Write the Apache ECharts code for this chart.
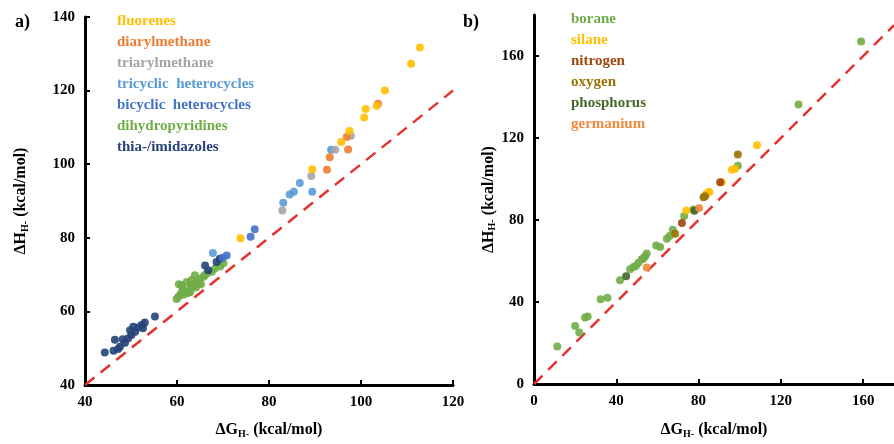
<!DOCTYPE html>
<html>
<head>
<meta charset="utf-8">
<script src="https://cdn.jsdelivr.net/npm/echarts@6/dist/echarts.min.js"></script>
<style>
  html, body { margin: 0; padding: 0; background: #fff; }
  #main { width: 894px; height: 444px; }
</style>
</head>
<body>
<div id="main"></div>
<script>
// ---- panel a) data [ΔG, ΔH] ----
const fluorenes = [[112.8, 131.7], [110.9, 127.3], [105.2, 120], [101, 115], [100.7, 112.7], [103.4, 115.9], [97.5, 109], [95.7, 106], [89.4, 98.6], [73.8, 79.9]];
const diarylmethane = [[96.9, 107.4], [97.2, 104], [93.2, 101.9], [92.6, 98.5], [103.7, 116.4]];
const triarylmethane = [[97.8, 107.7], [94.4, 103.9], [89.2, 96.8], [82.9, 87.4]];
const tricyclic = [[93.5, 103.9], [86.7, 94.9], [85.4, 92.5], [84.5, 91.8], [83.1, 89.5], [89.4, 92.5], [67.8, 75.9]];
const bicyclic = [[76.9, 82.3], [76, 80.3], [70.8, 75.2], [69.9, 74.6]];
const dihydropyridines = [
  [59.9, 63.4], [60.3, 64], [60.4, 67.4], [61, 67.2], [62.1, 68], [61.7, 65.5], [62.8, 66], [63.5, 66.9],
  [63.9, 69.8], [63.2, 68.5], [64.3, 68], [65, 68.9], [65.8, 69.4], [66.5, 70.3], [67.6, 70.8], [68.3, 71.7],
  [69.4, 72.2], [70.1, 73.1], [61.4, 64.5], [62.4, 65], [60.8, 64.8], [63, 67.3], [64.6, 67.6], [66, 69.8],
  [61.2, 66.1], [62.9, 65.3], [64.1, 66.5], [65.2, 67.4]
];
const thiaImidazoles = [
  [44.3, 48.8], [46.2, 49.3], [46.5, 52.3], [47.6, 50.4], [48.7, 51.5], [49.4, 52.7], [50.1, 53.6], [49.8, 54.9],
  [50.9, 54.5], [51.6, 55.6], [52.3, 56.3], [53, 57], [50.5, 55.8], [55.2, 58.6], [66.1, 72.5], [66.8, 71.2],
  [68.6, 73.4], [69.3, 74.3], [47.2, 49.8], [48.2, 52.4], [52.6, 55.4]
];
const diagA = [[40, 40], [120, 120]];

// ---- panel b) data [ΔG, ΔH] ----
const borane = [
  [11.3, 18.3], [20, 28.3], [22, 25.1], [24.8, 32.4], [26.1, 32.9], [32.4, 41.3], [35.7, 42.1], [41.8, 50.6],
  [46.7, 56], [48.3, 57.1], [50.8, 59.2], [52.4, 60.8], [54, 62.3], [54.8, 63.6], [59.4, 67.6], [61.3, 66.8],
  [64.6, 70.9], [65.9, 72.2], [67.5, 75.2], [73, 81.9], [77.5, 85.1], [99.1, 106.5], [128.6, 136.4], [159, 167.1],
  [49.5, 57.6], [53.2, 61.2]
];
const silane = [[74, 84.6], [83.6, 92.6], [85.2, 93.6], [91.3, 98.4], [96.2, 104.5], [97.8, 105], [108.4, 116.5], [84.8, 93.5]];
const nitrogen = [[71.9, 78.5], [90.5, 98.4]];
const oxygen = [[68.6, 73.3], [82.4, 91.1], [83.2, 91.6], [99.1, 112]];
const phosphorus = [[44.8, 52.6], [78, 84.5]];
const germanium = [[54.8, 56.8], [80.3, 85.8]];
const diagB = [[0, 0], [175, 175]];

const serif = '"Liberation Serif", "DejaVu Serif", serif';
const chart = echarts.init(document.getElementById('main'));

function axisName(letter) {
  return '{a|Δ' + letter + '}{s|H-}{a| (kcal/mol)}';
}
const nameRich = {
  a: { fontFamily: serif, fontWeight: 'bold', fontSize: 16, color: '#000' },
  s: { fontFamily: serif, fontWeight: 'bold', fontSize: 10, color: '#000', padding: [8, 0, 0, 0] }
};

function valueAxis(gridIndex, min, max, interval, extra) {
  return Object.assign({
    type: 'value',
    gridIndex: gridIndex,
    min: min,
    max: max,
    interval: interval,
    splitLine: { show: false },
    axisLine: { show: true, onZero: false, lineStyle: { color: '#000', width: 3 } },
    axisTick: { show: true, inside: true, length: 5, lineStyle: { color: '#000', width: 2 } },
    axisLabel: { fontFamily: serif, fontWeight: 'bold', fontSize: 15, color: '#000', margin: 10 },
    nameLocation: 'middle',
    nameTextStyle: { rich: nameRich }
  }, extra);
}

function scatter(name, data, color, xi) {
  return {
    name: name,
    type: 'scatter',
    xAxisIndex: xi,
    yAxisIndex: xi,
    data: data,
    symbolSize: 8,
    itemStyle: { color: color, opacity: 0.9 }
  };
}

function legendItem(name, color) {
  return { name: name, textStyle: { color: color } };
}

const legendBase = {
  orient: 'vertical',
  icon: 'none',
  itemWidth: 0,
  itemHeight: 14,
  itemGap: 6,
  padding: 0,
  selectedMode: false,
  textStyle: { fontFamily: serif, fontWeight: 'bold', fontSize: 15, padding: [0, 0, 0, -5] }
};

const option = {
  animation: false,
  title: [
    { text: 'a)', left: 10, top: 8, textStyle: { fontFamily: serif, fontWeight: 'bold', fontSize: 18, color: '#000' } },
    { text: 'b)', left: 458, top: 8, textStyle: { fontFamily: serif, fontWeight: 'bold', fontSize: 18, color: '#000' } }
  ],
  legend: [
    Object.assign({}, legendBase, {
      left: 117, top: 14,
      data: [
        legendItem('fluorenes', '#FFC000'),
        legendItem('diarylmethane', '#ED7D31'),
        legendItem('triarylmethane', '#A5A5A5'),
        legendItem('tricyclic  heterocycles', '#5B9BD5'),
        legendItem('bicyclic  heterocycles', '#4472C4'),
        legendItem('dihydropyridines', '#70AD47'),
        legendItem('thia-/imidazoles', '#264478')
      ]
    }),
    Object.assign({}, legendBase, {
      left: 571, top: 12,
      data: [
        legendItem('borane', '#70AD47'),
        legendItem('silane', '#FFC000'),
        legendItem('nitrogen', '#9E480E'),
        legendItem('oxygen', '#997300'),
        legendItem('phosphorus', '#43682B'),
        legendItem('germanium', '#F08A3C')
      ]
    })
  ],
  grid: [
    { left: 85, top: 17, width: 368, height: 370 },
    { left: 534, top: 15, width: 360, height: 371 }
  ],
  xAxis: [
    valueAxis(0, 40, 120, 20, { name: axisName('G'), nameGap: 36 }),
    valueAxis(1, 0, 175, 40, {
      name: axisName('G'), nameGap: 37,
      axisLabel: { fontFamily: serif, fontWeight: 'bold', fontSize: 15, color: '#000', margin: 10, showMaxLabel: false }
    })
  ],
  yAxis: [
    valueAxis(0, 40, 140, 20, { name: axisName('H'), nameGap: 55 }),
    valueAxis(1, 0, 180, 40, {
      name: axisName('H'), nameGap: 36,
      axisLabel: { fontFamily: serif, fontWeight: 'bold', fontSize: 15, color: '#000', margin: 10, showMaxLabel: false }
    })
  ],
  series: [
    {
      name: 'diagA', type: 'line', xAxisIndex: 0, yAxisIndex: 0, data: diagA, symbol: 'none', z: 1,
      lineStyle: { color: '#E8302E', width: 2.5, type: [12, 8] }
    },
    {
      name: 'diagB', type: 'line', xAxisIndex: 1, yAxisIndex: 1, data: diagB, symbol: 'none', z: 1,
      lineStyle: { color: '#E8302E', width: 2.5, type: [12, 8] }
    },
    scatter('dihydropyridines', dihydropyridines, '#70AD47', 0),
    scatter('thia-/imidazoles', thiaImidazoles, '#264478', 0),
    scatter('bicyclic  heterocycles', bicyclic, '#4472C4', 0),
    scatter('tricyclic  heterocycles', tricyclic, '#5B9BD5', 0),
    scatter('triarylmethane', triarylmethane, '#A5A5A5', 0),
    scatter('diarylmethane', diarylmethane, '#ED7D31', 0),
    scatter('fluorenes', fluorenes, '#FFC000', 0),
    scatter('borane', borane, '#70AD47', 1),
    scatter('silane', silane, '#FFC000', 1),
    scatter('nitrogen', nitrogen, '#9E480E', 1),
    scatter('oxygen', oxygen, '#997300', 1),
    scatter('phosphorus', phosphorus, '#43682B', 1),
    scatter('germanium', germanium, '#F08A3C', 1)
  ]
};
chart.setOption(option);
</script>
</body>
</html>
